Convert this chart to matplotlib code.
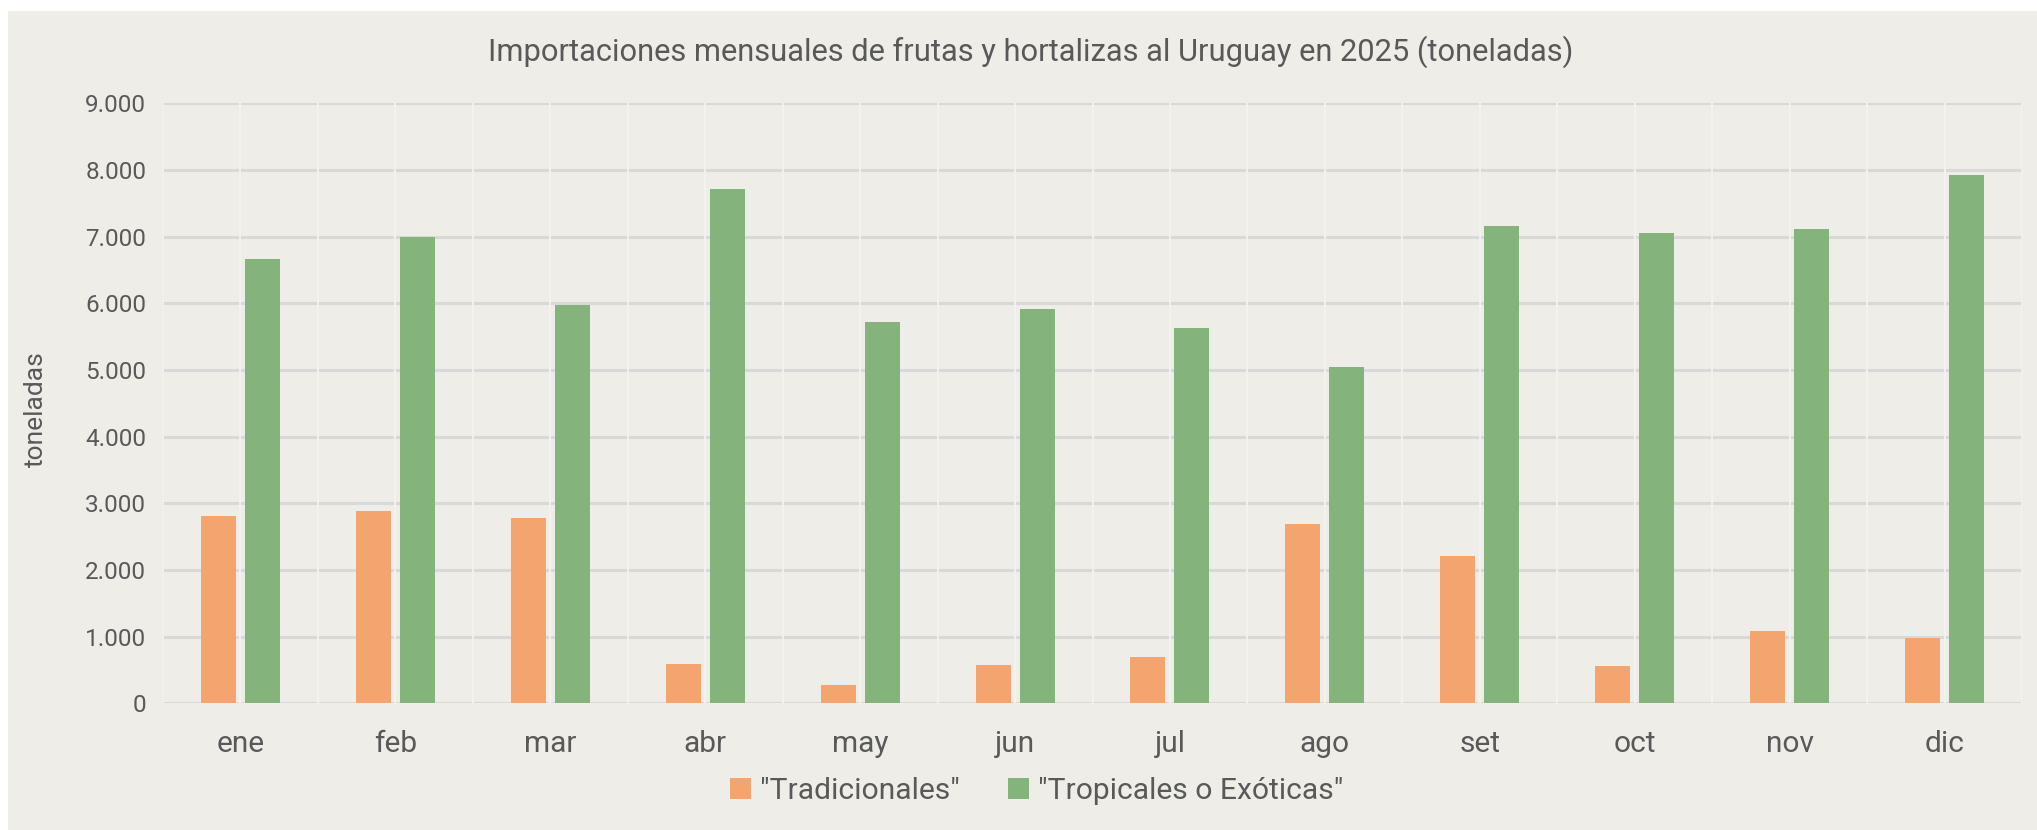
"""
Monthly fruit and vegetable imports into Uruguay in 2025, grouped bars by category.
"""
import matplotlib.pyplot as plt
import numpy as np
from matplotlib.patches import Rectangle
from matplotlib.ticker import FuncFormatter, FixedLocator

MONTHS = ["ene", "feb", "mar", "abr", "may", "jun", "jul", "ago", "set", "oct", "nov", "dic"]
TRADICIONALES = [2810, 2885, 2780, 590, 270, 570, 690, 2690, 2210, 555, 1090, 975]
TROPICALES = [6665, 6990, 5970, 7710, 5715, 5915, 5635, 5045, 7160, 7055, 7110, 7930]
SERIES_NAMES = ['"Tradicionales"', '"Tropicales o Exóticas"']
Y_TICKS = list(range(0, 9001, 1000))

TITLE = "Importaciones mensuales de frutas y hortalizas al Uruguay en 2025 (toneladas)"
Y_LABEL = "toneladas"

PANEL_COLOR = "#EEEDE8"
TEXT_COLOR = "#595959"
ORANGE = "#F4A46E"
GREEN = "#84B37C"

plt.rcParams["font.family"] = ["Roboto", "DejaVu Sans"]


def thousands(value, _pos):
    """Formats tick values with a dot as thousands separator."""
    return f"{int(value):,}".replace(",", ".")


fig = plt.figure(figsize=(20.37, 8.30), dpi=100)
fig.patch.set_facecolor("white")
fig.patches.append(Rectangle((8 / 2037, 0), 1, 1 - 11 / 830, transform=fig.transFigure,
                             facecolor=PANEL_COLOR, edgecolor="none", zorder=-10))

ax = fig.add_axes([163 / 2037, 1 - 703.3 / 830, (2022 - 163) / 2037, 600 / 830])
ax.set_facecolor("none")

x = np.arange(len(MONTHS))
width = 0.226
offset = 0.142
ax.bar(x - offset, TRADICIONALES, width, color=ORANGE, label=SERIES_NAMES[0], zorder=2)
ax.bar(x + offset, TROPICALES, width, color=GREEN, label=SERIES_NAMES[1], zorder=2)

ax.set_xlim(-0.5, len(MONTHS) - 0.5)
ax.set_ylim(0, 9000)
ax.set_yticks(Y_TICKS)
ax.yaxis.set_major_formatter(FuncFormatter(thousands))
ax.set_xticks(x)
ax.set_xticklabels(MONTHS)
ax.xaxis.set_minor_locator(FixedLocator(np.arange(-0.5, len(MONTHS), 1.0)))

ax.set_axisbelow(True)
ax.yaxis.grid(True, color="#D9D9D9", linewidth=2.2)
ax.xaxis.grid(True, which="both", color="#F3F3F0", linewidth=1.3)
ax.yaxis.set_zorder(0.5)
ax.xaxis.set_zorder(0.6)

for spine in ax.spines.values():
    spine.set_visible(False)
ax.tick_params(axis="both", which="both", length=0)
ax.tick_params(axis="y", labelsize=17.5, labelcolor=TEXT_COLOR, pad=12)
ax.tick_params(axis="x", labelsize=21.5, labelcolor=TEXT_COLOR, pad=19.5)

fig.text(36 / 2037, 1 - 409 / 830, Y_LABEL, rotation=90, ha="center", va="center",
         fontsize=19, color=TEXT_COLOR)
fig.text(1031 / 2037, 1 - 52 / 830, TITLE, ha="center", va="center",
         fontsize=22.2, color=TEXT_COLOR)

fig.legend(loc="center", bbox_to_anchor=(1037 / 2037, 1 - 791 / 830), ncol=2,
           frameon=False, fontsize=21.6, labelcolor=TEXT_COLOR, handlelength=0.7,
           handleheight=0.7, handletextpad=0.3, columnspacing=1.6)

fig.savefig("out.png", dpi=100, facecolor=fig.get_facecolor())
plt.close(fig)
